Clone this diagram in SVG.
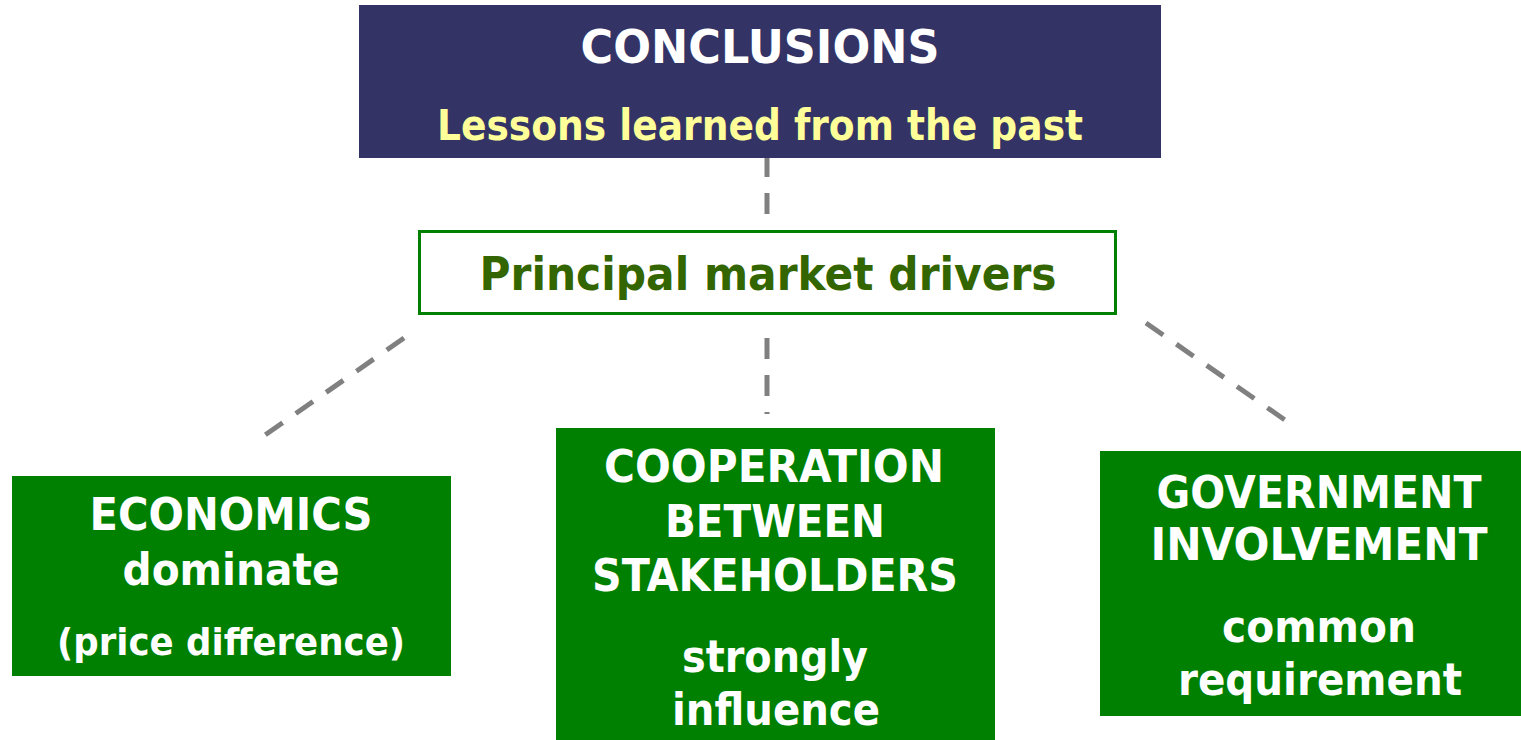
<svg xmlns="http://www.w3.org/2000/svg" width="1521" height="740" viewBox="0 0 1521 740">
<style>
text{font-family:"DejaVu Sans","Verdana",sans-serif;font-weight:bold;text-anchor:middle}
.w{fill:#ffffff}
.y{fill:#ffff99}
.g{fill:#336600}
.box{fill:#008000}
.conn line{stroke:#808080;stroke-width:5;stroke-dasharray:21 16;fill:none}
</style>
<rect width="1521" height="740" fill="#ffffff"/>
<g id="conn" class="conn">
<line x1="767" y1="156" x2="767" y2="230"/>
<line x1="767" y1="338" x2="767" y2="414"/>
<line x1="404" y1="338" x2="265" y2="435"/>
<line x1="1146" y1="323" x2="1285" y2="420"/>
</g>
<g id="conclusions">
<rect x="359" y="5" width="802" height="153" fill="#333366"/>
<text class="w" x="760" y="63" font-size="47" textLength="359" lengthAdjust="spacingAndGlyphs">CONCLUSIONS</text>
<text class="y" x="760" y="140" font-size="42" textLength="646" lengthAdjust="spacingAndGlyphs">Lessons learned from the past</text>
</g>
<g id="drivers">
<rect x="419.5" y="231.5" width="696" height="82" fill="#ffffff" stroke="#008000" stroke-width="3"/>
<text class="g" x="768" y="290" font-size="46" textLength="577" lengthAdjust="spacingAndGlyphs">Principal market drivers</text>
</g>
<g id="economics">
<rect class="box" x="12" y="476" width="439" height="200"/>
<text class="w" x="231" y="530" font-size="44" textLength="283" lengthAdjust="spacingAndGlyphs">ECONOMICS</text>
<text class="w" x="231" y="585" font-size="44" textLength="217" lengthAdjust="spacingAndGlyphs">dominate</text>
<text class="w" x="231" y="655" font-size="38" textLength="348" lengthAdjust="spacingAndGlyphs">(price difference)</text>
</g>
<g id="cooperation">
<rect class="box" x="556" y="428" width="439" height="312"/>
<text class="w" x="774" y="482" font-size="44" textLength="340" lengthAdjust="spacingAndGlyphs">COOPERATION</text>
<text class="w" x="775" y="537" font-size="44" textLength="220" lengthAdjust="spacingAndGlyphs">BETWEEN</text>
<text class="w" x="775" y="591" font-size="44" textLength="366" lengthAdjust="spacingAndGlyphs">STAKEHOLDERS</text>
<text class="w" x="775" y="672" font-size="44" textLength="186" lengthAdjust="spacingAndGlyphs">strongly</text>
<text class="w" x="776" y="725" font-size="44" textLength="208" lengthAdjust="spacingAndGlyphs">influence</text>
</g>
<g id="government">
<rect class="box" x="1100" y="451" width="421" height="265"/>
<text class="w" x="1319" y="508" font-size="44" textLength="325" lengthAdjust="spacingAndGlyphs">GOVERNMENT</text>
<text class="w" x="1319" y="560" font-size="44" textLength="337" lengthAdjust="spacingAndGlyphs">INVOLVEMENT</text>
<text class="w" x="1319" y="642" font-size="44" textLength="194" lengthAdjust="spacingAndGlyphs">common</text>
<text class="w" x="1320" y="695" font-size="44" textLength="284" lengthAdjust="spacingAndGlyphs">requirement</text>
</g>
</svg>
